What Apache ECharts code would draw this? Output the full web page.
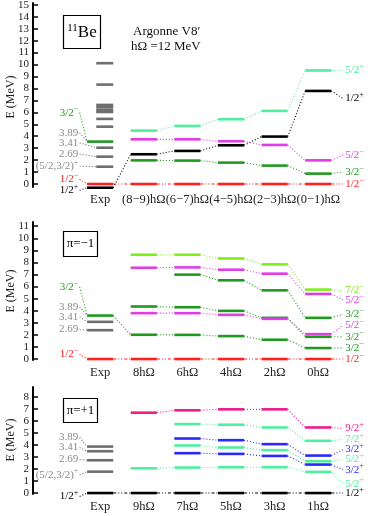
<!DOCTYPE html>
<html>
<head>
<meta charset="utf-8">
<script src="https://cdn.jsdelivr.net/npm/echarts@6/dist/echarts.min.js"></script>
<style>
html, body { margin: 0; padding: 0; background: #fff; }
#chart { width: 374px; height: 516px; }
</style>
</head>
<body>
<div id="chart"></div>
<script>
// ---------- panel 1 : all states (energies relative to 1/2-) ----------
const cols1 = ['Exp', '(8−9)hΩ', '(6−7)hΩ', '(4−5)hΩ', '(2−3)hΩ', '(0−1)hΩ'];
const expGrey1 = [10.11, 8.32, 6.62, 6.42, 6.20, 6.03, 5.45, 4.80, 3.04, 2.29, 1.45];
const expGreen1 = [3.55];
const red1 = [0, 0, 0, 0, 0, 0];
const black1 = [-0.31, 2.49, 2.77, 3.24, 3.97, 7.79];
const cyan1 = [null, 4.47, 4.86, 5.42, 6.12, 9.50];
const mag1 = [null, 3.74, 3.74, 3.58, 3.27, 1.98];
const green1 = [null, 1.98, 1.96, 1.79, 1.54, 0.87];
const rightText1 = ['1/2^−', '1/2^+', '5/2^+', '5/2^−', '3/2^−'];
const rightE1 = [0, 7.15, 9.50, 2.42, 1.01];
const leftText1 = ['3/2^−', '3.89', '3.41', '2.69', '(5/2,3/2)^+', '1/2^−', '1/2^+'];
const leftE1 = [5.97, 4.28, 3.44, 2.51, 1.49, 0.40, -0.53];
const leftTo1 = [3.55, 3.55, 3.04, 2.29, 1.45, 0, -0.31];
const ticks1 = [0, 1, 2, 3, 4, 5, 6, 7, 8, 9, 10, 11, 12, 13, 14, 15];

// ---------- panel 2 : negative parity ----------
const cols2 = ['Exp', '8hΩ', '6hΩ', '4hΩ', '2hΩ', '0hΩ'];
const expGrey2 = [3.08, 2.39];
const red2 = [0, 0, 0, 0, 0, 0];
const lime2 = [null, 8.64, 8.64, 8.33, 7.84, 5.75];
const magHi2 = [null, 7.56, 7.59, 7.40, 7.07, 5.39];
const grnHi2 = [null, null, 6.99, 6.52, 5.69, 3.41];
const grnMid2 = [null, 4.35, 4.29, 3.99, 3.41, 1.84];
const magLo2 = [null, 3.80, 3.80, 3.66, 3.33, 2.06];
const grnLo2 = [3.60, 2.01, 2.00, 1.90, 1.60, 0.91];
const rightText2 = ['1/2^−', '7/2^−', '5/2^−', '3/2^−', '3/2^−', '5/2^−', '3/2^−'];
const rightE2 = [0, 5.69, 4.87, 3.71, 1.84, 2.81, 0.93];
const leftText2 = ['3/2^−', '3.89', '3.41', '2.69', '1/2^−'];
const leftE2 = [5.97, 4.32, 3.49, 2.45, 0.41];
const leftTo2 = [3.60, 3.60, 3.08, 2.39, 0];
const ticks2 = [0, 1, 2, 3, 4, 5, 6, 7, 8, 9, 10, 11];

// ---------- panel 3 : positive parity ----------
const cols3 = ['Exp', '9hΩ', '7hΩ', '5hΩ', '3hΩ', '1hΩ'];
const expGrey3 = [3.87, 3.48, 2.73, 1.78];
const black3 = [0, 0, 0, 0, 0, 0];
const pink3 = [null, 6.69, 6.89, 6.97, 6.97, 5.46];
const cyanHi3 = [null, null, 5.74, 5.69, 5.46, 4.35];
const blueHi3 = [null, null, 4.54, 4.40, 4.07, 3.12];
const cyanMid3 = [null, null, 3.96, 3.79, 3.57, 2.65];
const blueLo3 = [null, null, 3.32, 3.26, 3.09, 2.37];
const cyanLo3 = [null, 2.06, 2.12, 2.15, 2.15, 1.76];
const rightText3 = ['1/2^+', '9/2^+', '7/2^+', '3/2^+', '5/2^+', '3/2^+', '5/2^+'];
const rightE3 = [0, 5.38, 4.46, 3.62, 2.79, 1.95, 0.78];
const leftText3 = ['3.89', '3.41', '2.69', '(5/2,3/2)^+', '1/2^+'];
const leftE3 = [4.63, 3.79, 2.79, 1.53, -0.28];
const leftTo3 = [3.87, 3.48, 2.73, 1.78, 0];
const ticks3 = [0, 1, 2, 3, 4, 5, 6, 7, 8];

const SERIF = '"Liberation Serif", "DejaVu Serif", serif';
const RED = '#ff1f1f', GREEN = '#1f9a1f', CYAN = '#4ef0a0', MAG = '#e03ce8',
  LIME = '#7fee1a', PINK = '#f01c8c', BLUE = '#2828ff', GREY = '#6e6e6e',
  GREYTXT = '#8a8a8a', BLACK = '#000';
const HALF = 0.3;      // half bar width, in column units
const RIGHT_X = 5.62;  // right-hand labels
const LEFT_X = -0.5;   // left-hand labels

function rich(label, color, size) {
  const i = label.indexOf('^');
  const text = i < 0 ? '{b|' + label + '}' : '{b|' + label.slice(0, i) + '}{s|' + label.slice(i + 1) + '}';
  return {
    text: text,
    rich: {
      b: { fontFamily: SERIF, fontSize: size, fill: color, lineHeight: size + 4, verticalAlign: 'middle' },
      s: { fontFamily: SERIF, fontSize: Math.round(size * 0.72), fill: color, lineHeight: Math.round(size * 0.72), verticalAlign: 'top' }
    }
  };
}

function buildPanel(gi, states, greys, greyStart, lefts) {
  const levels = [], links = [], texts = [], textInfo = [];
  states.forEach(st => {
    let prev = null, prevC = null;
    st.vals.forEach((e, c) => {
      if (e == null) return;
      levels.push({ value: [c - HALF, c + HALF, e], itemStyle: { color: st.color } });
      if (prev != null) links.push({ value: [prevC + HALF, prev, c - HALF, e, st.dash], itemStyle: { color: st.color } });
      prev = e; prevC = c;
    });
    if (st.text) {
      links.push({ value: [prevC + HALF, prev, RIGHT_X - 0.05, st.textE, st.dash], itemStyle: { color: st.color } });
      texts.push({ value: [RIGHT_X, st.textE], itemStyle: { color: st.color } });
      textInfo.push({ label: st.text, color: st.color, align: 'left' });
    }
  });
  greys.vals.forEach(e => {
    levels.push({ value: [greyStart, HALF, e], itemStyle: { color: greys.color } });
  });
  lefts.text.forEach((t, i) => {
    const col = lefts.color[i];
    const x0 = lefts.toX[i];
    links.push({ value: [LEFT_X + 0.03, lefts.e[i], x0, lefts.to[i], 0], itemStyle: { color: col === GREYTXT ? GREY : col } });
    texts.push({ value: [LEFT_X, lefts.e[i]], itemStyle: { color: col } });
    textInfo.push({ label: t, color: col, align: 'right' });
  });
  return [
    {
      type: 'custom', xAxisIndex: gi, yAxisIndex: gi, clip: false, silent: true, z: 3,
      renderItem: (p, api) => {
        const a = api.coord([api.value(0), api.value(2)]);
        const b = api.coord([api.value(1), api.value(2)]);
        return { type: 'line', shape: { x1: a[0], y1: a[1], x2: b[0], y2: b[1] },
          style: { stroke: api.visual('color'), lineWidth: 2.6 } };
      },
      data: levels
    },
    {
      type: 'custom', xAxisIndex: gi, yAxisIndex: gi, clip: false, silent: true, z: 2,
      renderItem: (p, api) => {
        const a = api.coord([api.value(0), api.value(1)]);
        const b = api.coord([api.value(2), api.value(3)]);
        return { type: 'line', shape: { x1: a[0], y1: a[1], x2: b[0], y2: b[1] },
          style: { stroke: api.visual('color'), lineWidth: 1.1, lineDash: api.value(4) ? [3, 2, 1, 2, 1, 2] : [1, 2] } };
      },
      data: links
    },
    {
      type: 'custom', xAxisIndex: gi, yAxisIndex: gi, clip: false, silent: true, z: 4,
      renderItem: (p, api) => {
        const pt = api.coord([api.value(0), api.value(1)]);
        const info = textInfo[p.dataIndex];
        const r = rich(info.label, info.color, 11);
        return { type: 'text', x: pt[0], y: pt[1],
          style: { text: r.text, rich: r.rich, align: info.align, verticalAlign: 'middle', fill: info.color } };
      },
      data: texts
    }
  ];
}

const series = []
  .concat(buildPanel(0, [
    { vals: red1, color: RED, dash: 1, text: rightText1[0], textE: rightE1[0] },
    { vals: black1, color: BLACK, dash: 0, text: rightText1[1], textE: rightE1[1] },
    { vals: cyan1, color: CYAN, dash: 0, text: rightText1[2], textE: rightE1[2] },
    { vals: mag1, color: MAG, dash: 0, text: rightText1[3], textE: rightE1[3] },
    { vals: green1, color: GREEN, dash: 0, text: rightText1[4], textE: rightE1[4] },
    { vals: expGreen1, color: GREEN, dash: 0 }
  ], { vals: expGrey1, color: GREY }, -0.09, {
    text: leftText1, e: leftE1, to: leftTo1,
    color: [GREEN, GREYTXT, GREYTXT, GREYTXT, GREYTXT, RED, BLACK],
    toX: [-HALF, -HALF, -0.09, -0.09, -0.09, -HALF, -HALF]
  }))
  .concat(buildPanel(1, [
    { vals: red2, color: RED, dash: 1, text: rightText2[0], textE: rightE2[0] },
    { vals: lime2, color: LIME, dash: 0, text: rightText2[1], textE: rightE2[1] },
    { vals: magHi2, color: MAG, dash: 0, text: rightText2[2], textE: rightE2[2] },
    { vals: grnHi2, color: GREEN, dash: 0, text: rightText2[3], textE: rightE2[3] },
    { vals: grnMid2, color: GREEN, dash: 0, text: rightText2[4], textE: rightE2[4] },
    { vals: magLo2, color: MAG, dash: 0, text: rightText2[5], textE: rightE2[5] },
    { vals: grnLo2, color: GREEN, dash: 0, text: rightText2[6], textE: rightE2[6] }
  ], { vals: expGrey2, color: GREY }, -HALF, {
    text: leftText2, e: leftE2, to: leftTo2,
    color: [GREEN, GREYTXT, GREYTXT, GREYTXT, RED],
    toX: [-HALF, -HALF, -HALF, -HALF, -HALF]
  }))
  .concat(buildPanel(2, [
    { vals: black3, color: BLACK, dash: 1, text: rightText3[0], textE: rightE3[0] },
    { vals: pink3, color: PINK, dash: 0, text: rightText3[1], textE: rightE3[1] },
    { vals: cyanHi3, color: CYAN, dash: 0, text: rightText3[2], textE: rightE3[2] },
    { vals: blueHi3, color: BLUE, dash: 0, text: rightText3[3], textE: rightE3[3] },
    { vals: cyanMid3, color: CYAN, dash: 0, text: rightText3[4], textE: rightE3[4] },
    { vals: blueLo3, color: BLUE, dash: 0, text: rightText3[5], textE: rightE3[5] },
    { vals: cyanLo3, color: CYAN, dash: 0, text: rightText3[6], textE: rightE3[6] }
  ], { vals: expGrey3, color: GREY }, -HALF, {
    text: leftText3, e: leftE3, to: leftTo3,
    color: [GREYTXT, GREYTXT, GREYTXT, GREYTXT, BLACK],
    toX: [-HALF, -HALF, -HALF, -HALF, -HALF]
  }));

function xAxisFor(gi, cols) {
  return {
    type: 'value', gridIndex: gi, min: -1.54, max: 5.82,
    axisLine: { show: false, onZero: false }, axisTick: { show: false }, splitLine: { show: false },
    axisLabel: {
      customValues: [0, 1, 2, 3, 4, 5], formatter: v => cols[Math.round(v)],
      fontFamily: SERIF, fontSize: 12.5, color: '#222', margin: 6,
      hideOverlap: false, showMinLabel: true, showMaxLabel: true
    }
  };
}
function yAxisFor(gi, min, max, ticks) {
  return {
    type: 'value', gridIndex: gi, min: min, max: max,
    axisLine: { show: true, onZero: false, lineStyle: { color: '#000', width: 2 } },
    axisTick: { show: true, inside: true, length: 5, customValues: ticks, lineStyle: { color: '#000', width: 1.5 } },
    axisLabel: { customValues: ticks, fontFamily: SERIF, fontSize: 11, color: '#222', margin: 4 },
    splitLine: { show: false }
  };
}
function axisName(y) {
  return { type: 'text', x: 11, y: y, rotation: Math.PI / 2,
    style: { text: 'E (MeV)', fontFamily: SERIF, fontSize: 12, fill: '#222', align: 'center', verticalAlign: 'middle' } };
}

const chart = echarts.init(document.getElementById('chart'), null, { renderer: 'canvas' });
chart.setOption({
  animation: false,
  backgroundColor: '#fff',
  grid: [
    { left: 33, top: 3, width: 321, height: 184, outerBoundsMode: 'none' },
    { left: 33, top: 222, width: 321, height: 138, outerBoundsMode: 'none' },
    { left: 33, top: 387, width: 321, height: 107, outerBoundsMode: 'none' }
  ],
  xAxis: [xAxisFor(0, cols1), xAxisFor(1, cols2), xAxisFor(2, cols3)],
  yAxis: [yAxisFor(0, -0.25, 15.15, ticks1), yAxisFor(1, -0.08, 11.35, ticks2), yAxisFor(2, -0.08, 8.83, ticks3)],
  graphic: [
    axisName(97), axisName(291), axisName(440),
    { type: 'rect', shape: { x: 63.5, y: 15.5, width: 37, height: 33 }, style: { fill: '#fff', stroke: '#000', lineWidth: 1.2 } },
    { type: 'text', x: 82, y: 33, style: { text: '{s|11}{b|Be}', align: 'center', verticalAlign: 'middle',
      rich: { s: { fontFamily: SERIF, fontSize: 11, fill: '#000', lineHeight: 11, verticalAlign: 'top' },
              b: { fontFamily: SERIF, fontSize: 17, fill: '#000', lineHeight: 20, verticalAlign: 'middle' } } } },
    { type: 'text', x: 133, y: 32, style: { text: 'Argonne V8′', fontFamily: SERIF, fontSize: 13, fill: '#111', verticalAlign: 'middle' } },
    { type: 'text', x: 131, y: 47, style: { text: 'hΩ =12 MeV', fontFamily: SERIF, fontSize: 13, fill: '#111', verticalAlign: 'middle' } },
    { type: 'rect', shape: { x: 63.5, y: 231.5, width: 34, height: 25 }, style: { fill: '#fff', stroke: '#000', lineWidth: 1.2 } },
    { type: 'text', x: 80.5, y: 244, style: { text: 'π=−1', fontFamily: SERIF, fontSize: 13, fill: '#000', align: 'center', verticalAlign: 'middle' } },
    { type: 'rect', shape: { x: 63.5, y: 398.5, width: 34, height: 24 }, style: { fill: '#fff', stroke: '#000', lineWidth: 1.2 } },
    { type: 'text', x: 80.5, y: 410.5, style: { text: 'π=+1', fontFamily: SERIF, fontSize: 13, fill: '#000', align: 'center', verticalAlign: 'middle' } }
  ],
  series: series
});
</script>
</body>
</html>
